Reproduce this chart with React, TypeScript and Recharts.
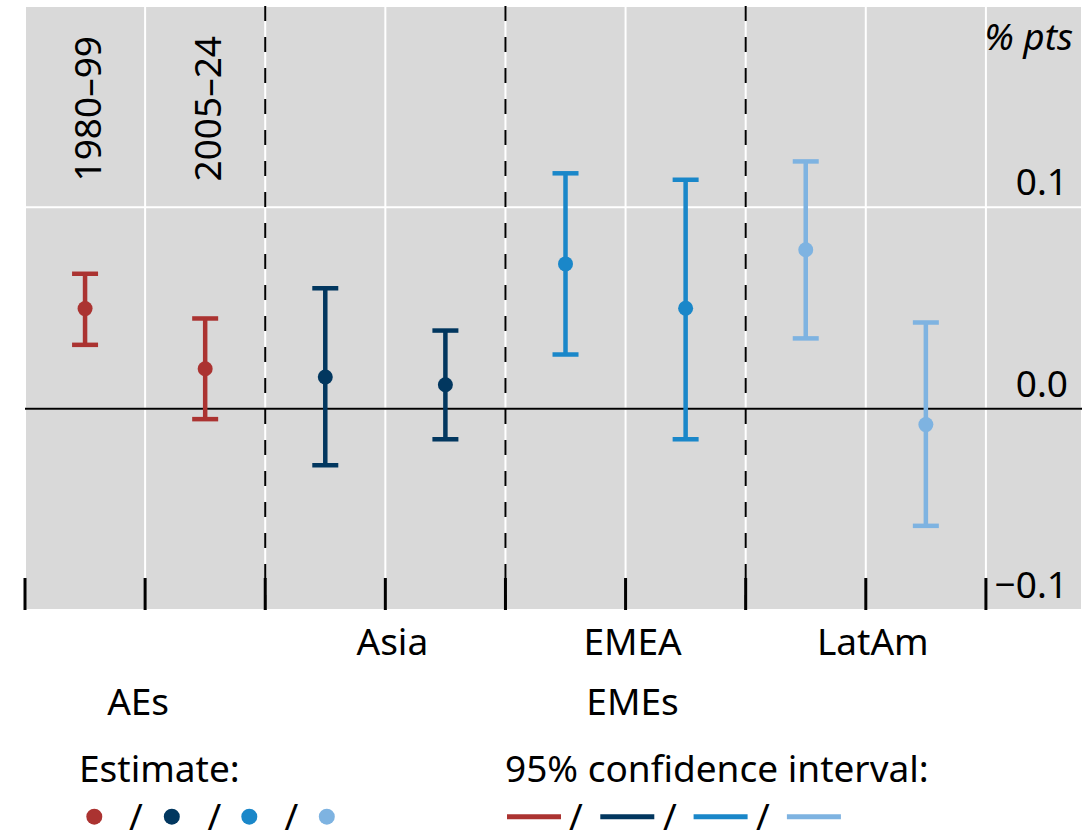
import React from "react";
import {
  ComposedChart,
  Scatter,
  ErrorBar,
  XAxis,
  YAxis,
  CartesianGrid,
  ReferenceLine,
  ReferenceDot,
} from "recharts";

const regions = ["AEs", "Asia", "EMEA", "LatAm"];
const periods = ["1980–99", "2005–24"];
const colors = ["#ab3331", "#02375f", "#1a87c9", "#7eb3e1"];

// two estimates per region: 1980–99, then 2005–24
const estimate = [0.0497, 0.0198, 0.0157, 0.0119, 0.0719, 0.0499, 0.0789, -0.0079];
const ciLow = [0.0317, -0.0052, -0.0281, -0.0152, 0.0269, -0.0152, 0.0349, -0.0582];
const ciHigh = [0.067, 0.0448, 0.0598, 0.0388, 0.1169, 0.1137, 0.1228, 0.0428];

const xTicks = [0, 1, 2, 3, 4, 5, 6, 7, 8];
const yTicks = [-0.1, 0, 0.1];
const dividers = [2, 4, 6];
const tickRow1: Record<number, string> = { 3: "Asia", 5: "EMEA", 7: "LatAm" };
const tickRow2: Record<number, string> = { 1: "AEs", 5: "EMEs" };

const FONT = '"Noto Sans", sans-serif';
const FS = 37;

const seriesData = regions.map((_, r) =>
  [0, 1].map((p) => {
    const i = r * 2 + p;
    return {
      x: i + 0.5,
      y: estimate[i],
      err: [estimate[i] - ciLow[i], ciHigh[i] - estimate[i]],
    };
  })
);

const XTick = (props: any) => {
  const { x, y, payload } = props;
  const v = payload.value;
  return (
    <g>
      <line x1={x} x2={x} y1={y - 32} y2={y} stroke="#000" strokeWidth={3} />
      {tickRow1[v] && (
        <text x={x + 7} y={y + 45} textAnchor="middle" fontSize={FS} fontFamily={FONT} fill="#000">
          {tickRow1[v]}
        </text>
      )}
      {tickRow2[v] && (
        <text x={x + (v === 1 ? -7 : 7)} y={y + 105} textAnchor="middle" fontSize={FS} fontFamily={FONT} fill="#000">
          {tickRow2[v]}
        </text>
      )}
    </g>
  );
};

const YTick = (props: any) => {
  const { y, payload } = props;
  const label = payload.value.toFixed(1).replace("-", "−");
  return (
    <text x={1068} y={y - 12} textAnchor="end" fontSize={FS} fontFamily={FONT} fill="#000">
      {label}
    </text>
  );
};

const Dot = (props: any) => <circle cx={props.cx} cy={props.cy} r={7.5} fill={props.fill} />;

const periodLabel = (text: string) => (p: any) => (
  <text
    x={p.cx + 16}
    y={p.cy + 30}
    transform={`rotate(-90 ${p.cx + 16} ${p.cy + 30})`}
    textAnchor="end"
    fontSize={FS}
    fontFamily={FONT}
    fill="#000"
  >
    {text}
  </text>
);

const unitLabel = (p: any) => (
  <text x={p.cx - 9} y={p.cy + 44} textAnchor="end" fontSize={FS} fontFamily={FONT} fontStyle="italic" fill="#000">
    % pts
  </text>
);

const Legend = () => (
  <svg width={1090} height={100} style={{ position: "absolute", left: 0, top: 732 }}>
    <g fontFamily={FONT} fontSize={FS} fill="#000">
      <text x={79} y={50}>Estimate:</text>
      <text x={505} y={50}>95% confidence interval:</text>
      {colors.map((c, i) => (
        <circle key={"d" + i} cx={94.3 + i * 77.5} cy={84.7} r={8} fill={c} />
      ))}
      {colors.map((c, i) => (
        <line key={"l" + i} x1={507 + i * 93.3} x2={561 + i * 93.3} y1={84.7} y2={84.7} stroke={c} strokeWidth={5} />
      ))}
      {[136, 214.5, 291.5, 576, 670, 763].map((x, i) => (
        <text key={"s" + i} x={x} y={98} textAnchor="middle">
          /
        </text>
      ))}
    </g>
  </svg>
);

export default function App() {
  return (
    <div style={{ position: "absolute", left: 0, top: 0, width: 1090, height: 832, background: "#fff" }}>
      <ComposedChart
        width={1090}
        height={832}
        margin={{ top: 6, right: 8, left: 25, bottom: 192 }}
      >
        <CartesianGrid fill="#d9d9d9" stroke="#fff" strokeWidth={2} />
        <XAxis
          type="number"
          dataKey="x"
          domain={[0, 8.8]}
          ticks={xTicks}
          height={30}
          axisLine={false}
          tickLine={false}
          tickSize={0}
          tickMargin={0}
          tick={XTick}
          interval={0}
        />
        <YAxis
          type="number"
          dataKey="y"
          orientation="right"
          mirror
          width={40}
          domain={[-0.1, 0.2]}
          ticks={yTicks}
          axisLine={false}
          tickLine={false}
          tickSize={0}
          tickMargin={0}
          tick={YTick}
          interval={0}
        />
        {dividers.map((d) => (
          <ReferenceLine key={d} x={d} stroke="#000" strokeWidth={2} strokeDasharray="15 16" />
        ))}
        <ReferenceLine y={0} stroke="#000" strokeWidth={2} />
        {periods.map((t, i) => (
          <ReferenceDot key={t} x={i + 0.5} y={0.2} ifOverflow="visible" shape={periodLabel(t)} />
        ))}
        <ReferenceDot x={8.8} y={0.2} ifOverflow="visible" shape={unitLabel} />
        {seriesData.map((d, r) => (
          <Scatter
            key={regions[r]}
            name={regions[r]}
            data={d}
            fill={colors[r]}
            shape={Dot}
            isAnimationActive={false}
          >
            <ErrorBar
              dataKey="err"
              direction="y"
              width={13}
              stroke={colors[r]}
              strokeWidth={4.5}
              isAnimationActive={false}
            />
          </Scatter>
        ))}
      </ComposedChart>
      <Legend />
    </div>
  );
}
